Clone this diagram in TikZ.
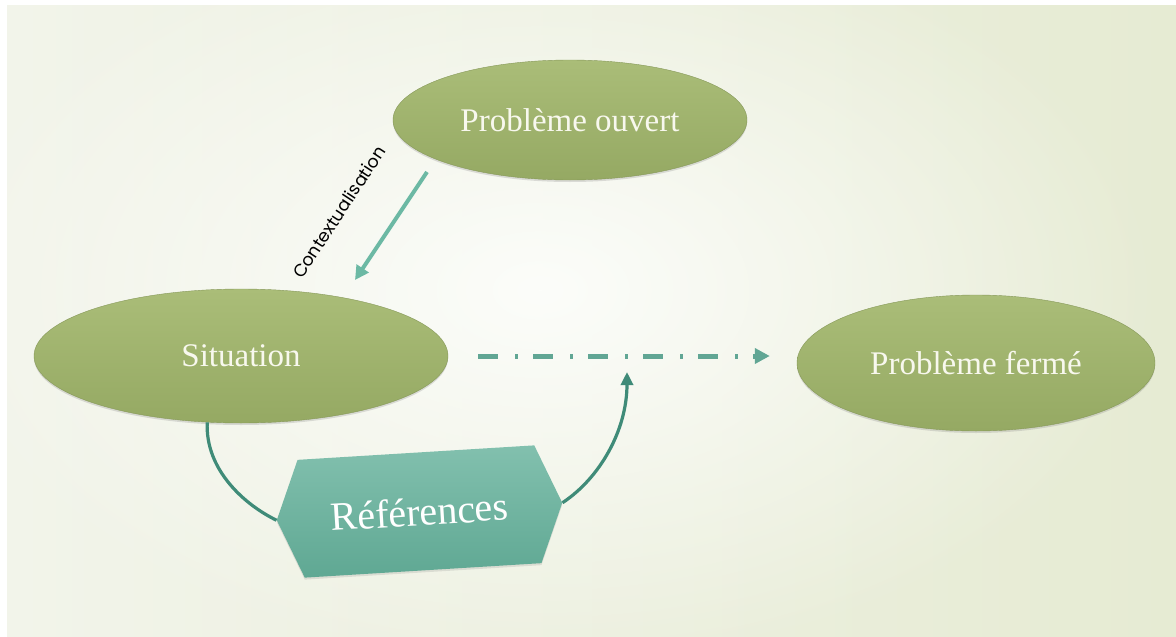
\documentclass[tikz,border=0pt]{standalone}
\usepackage{fontspec}
\setmainfont{Liberation Serif}
\newfontfamily\gothic{Poppins}
\usetikzlibrary{shapes.geometric,shapes.symbols,shadows,arrows.meta,fadings}
\definecolor{bgleft}{HTML}{F2F4EA}
\definecolor{bgright}{HTML}{E6EBD3}
\definecolor{bgmid}{HTML}{FCFDFA}
\definecolor{olivetop}{HTML}{AABD78}
\definecolor{olivebot}{HTML}{95A963}
\definecolor{olivetext}{HTML}{F8F8EE}
\definecolor{tealtop}{HTML}{82C0AE}
\definecolor{tealbot}{HTML}{5FA893}
\definecolor{teallight}{HTML}{6CB9A4}
\definecolor{tealdark}{HTML}{3F8B78}
\tikzfading[name=glowfade, inner color=transparent!0, outer color=transparent!100]
\tikzset{
  bubble/.style={ellipse, inner sep=0pt, top color=olivetop, bottom color=olivebot,
    draw=olivebot!90!black, line width=0.4pt,
    drop shadow={shadow xshift=0pt, shadow yshift=-2pt, opacity=0.25},
    text=olivetext, font=\fontsize{33}{40}\selectfont},
  refbox/.style={signal, signal to=west and east, signal pointer angle=135,
    inner sep=0pt, top color=tealtop, bottom color=tealbot,
    drop shadow={shadow xshift=0pt, shadow yshift=-2pt, opacity=0.2},
    text=white, font=\fontsize{40}{48}\selectfont},
  ctxarrow/.style={draw=teallight, line width=4pt, -{Triangle[length=14pt,width=14pt]}},
  refcurve/.style={draw=tealdark, line width=3.2pt},
  dashdot/.style={draw=teallight!90!black, line width=5pt,
    dash pattern=on 20pt off 17pt on 3pt off 15pt,
    -{Triangle[length=15pt,width=15pt]}},
  ctxlabel/.style={font=\gothic\fontsize{17.5}{20}\selectfont, text=black, inner sep=0pt}
}
\begin{document}
\begin{tikzpicture}[x=1pt,y=-1pt]
\useasboundingbox (0,0) rectangle (1176,637);
\fill[white] (0,0) rectangle (1176,637);
\shade[left color=bgleft, right color=bgright] (7,5) rectangle (1176,637);
\begin{scope}
\clip (7,5) rectangle (1176,637);
\fill[bgmid, path fading=glowfade] (540,290) ellipse [x radius=620pt, y radius=380pt];
\end{scope}

\node[bubble, minimum width=354pt, minimum height=120pt] (ouvert) at (570,120) {Problème ouvert};
\node[bubble, minimum width=414pt, minimum height=134pt] (sit) at (241,356) {Situation};
\node[bubble, minimum width=358pt, minimum height=136pt] (ferme) at (976,363) {Problème fermé};
\node[refbox, rotate=3.5, minimum width=286pt, minimum height=118pt] (ref) at (419.5,511.5) {Références};

\coordinate (ctxA) at (427,172);
\coordinate (ctxB) at (355,280);
\draw[ctxarrow] (ctxA) -- (ctxB);
\node[ctxlabel, rotate=56.7] (ctx) at (339,212) {Contextualisation};

\draw[dashdot, shorten <=30pt, shorten >=27pt] (sit.east) -- (sit.east -| ferme.west);

\coordinate (refin) at (627,372);
\draw[refcurve] (sit.243) .. controls (205,470) and (245,505) .. (ref.west);
\draw[refcurve, -{Triangle[length=13pt,width=12pt]}] (ref.east) .. controls (600,478) and (627,430) .. (refin);
\end{tikzpicture}
\end{document}
